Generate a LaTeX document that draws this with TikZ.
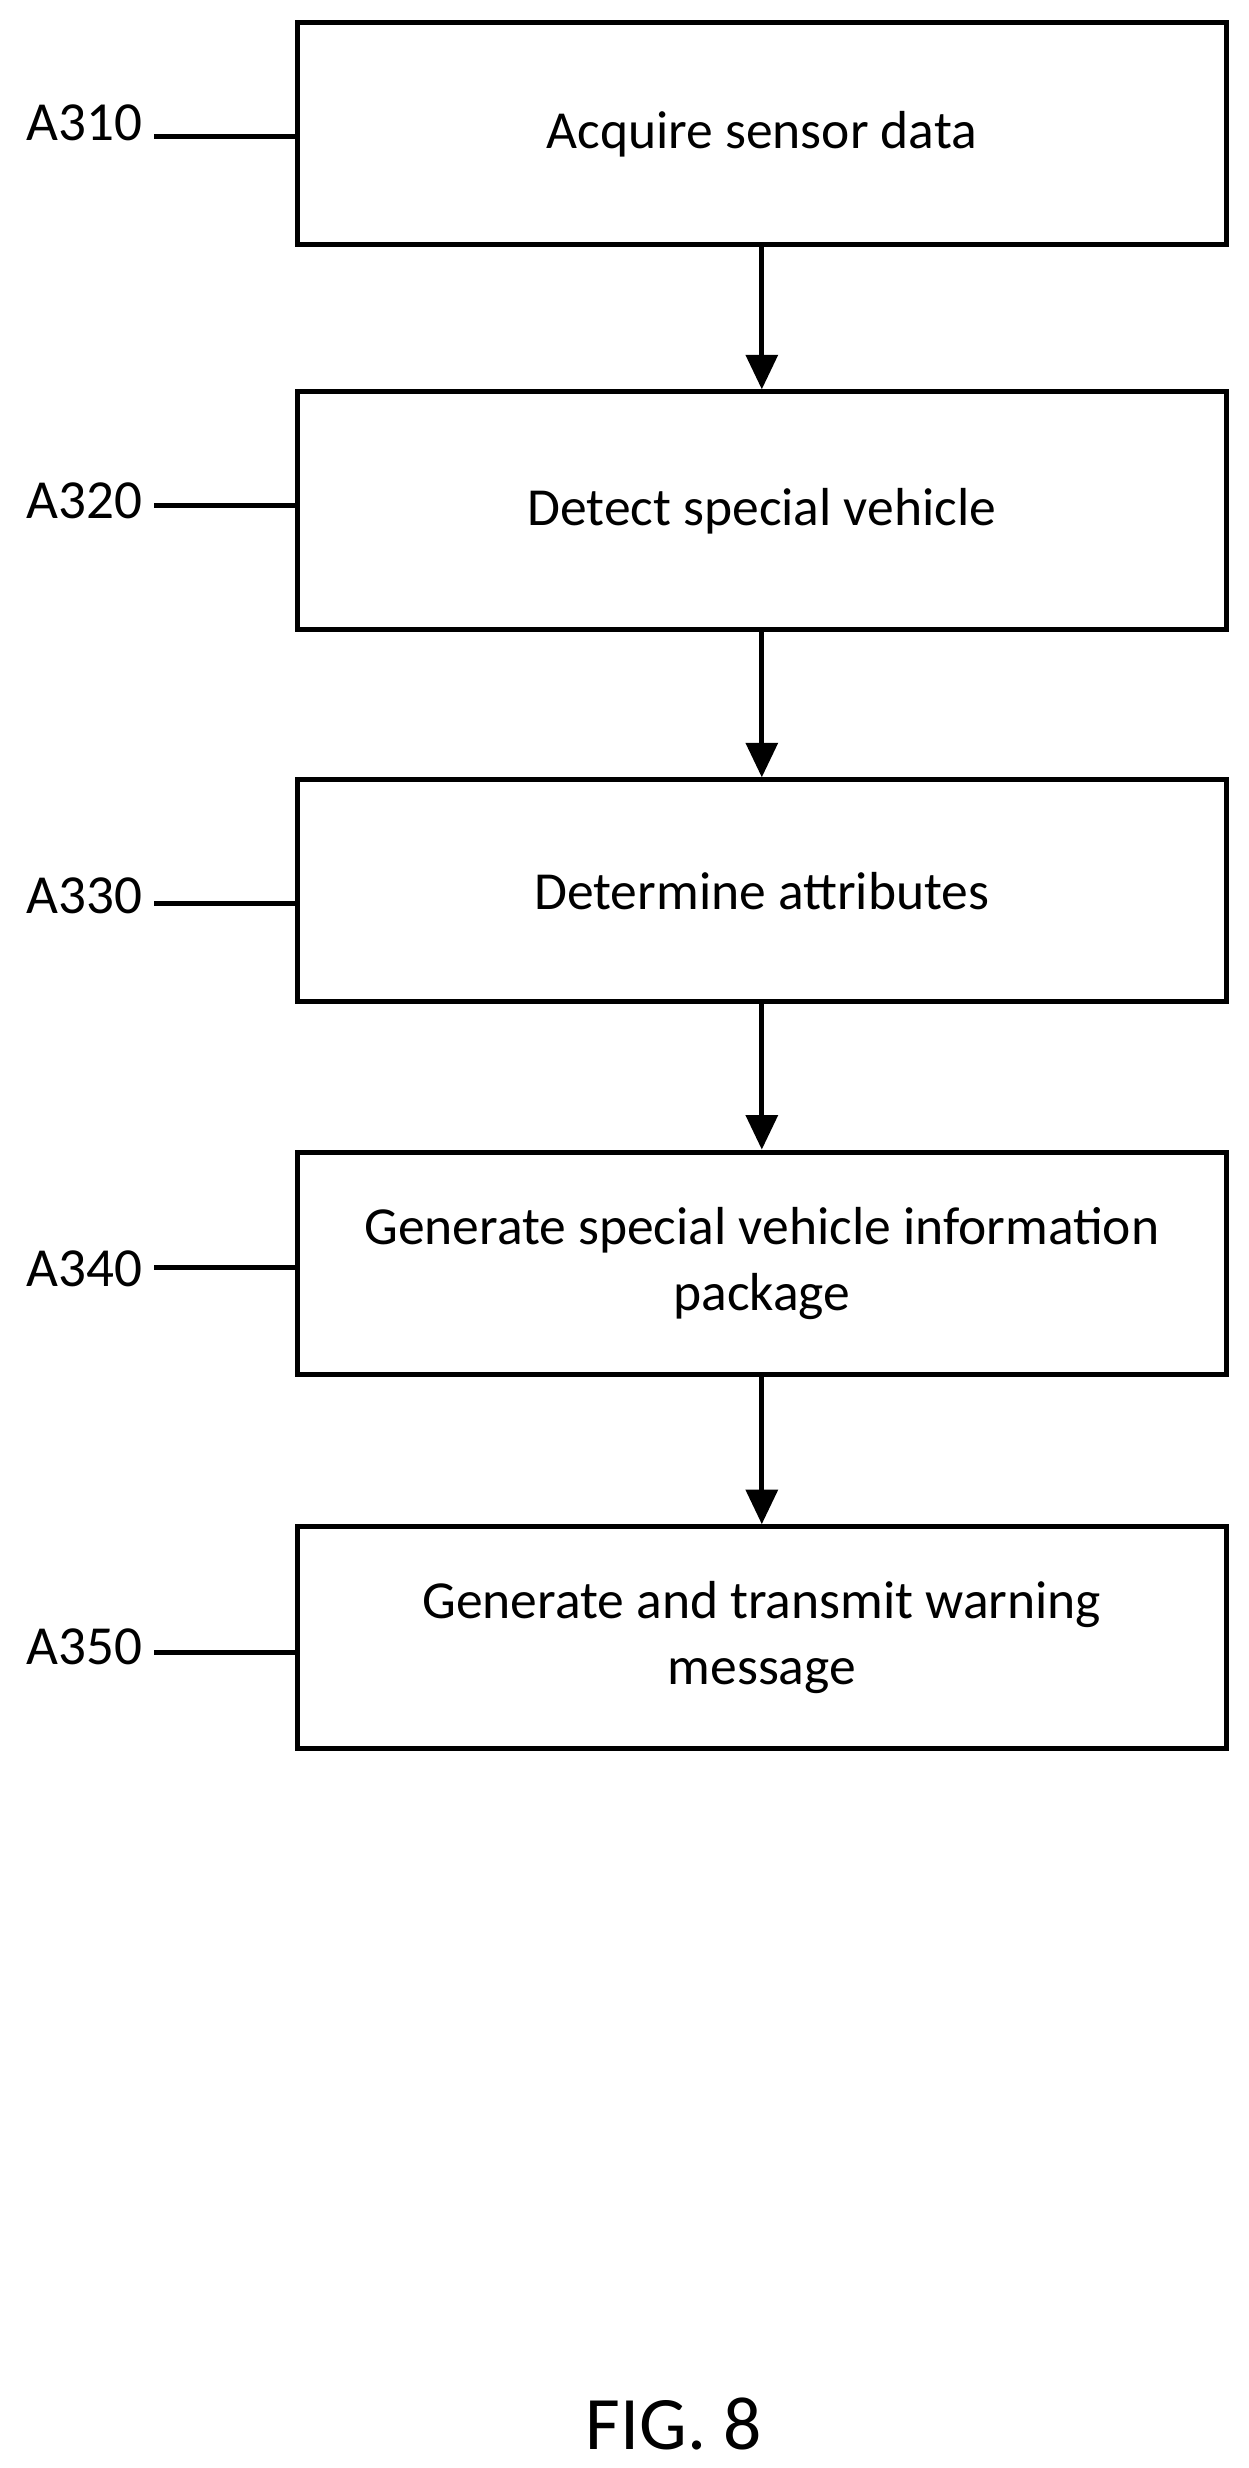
\documentclass[tikz,border=0pt]{standalone}
\usepackage{fontspec}
\setmainfont{Carlito}
\usetikzlibrary{arrows.meta}
\begin{document}
\begin{tikzpicture}[x=0.5pt,y=-0.5pt,
  box/.style={draw,line width=1.6pt,minimum width=295pt,minimum height=70.5pt,align=center,font=\fontsize{17}{21}\selectfont,inner sep=0pt},
  lbl/.style={font=\fontsize{17.5}{21}\selectfont,anchor=east,inner sep=0pt},
  arr/.style={line width=1.6pt,-{Triangle[length=11pt,width=10pt]}},
  ld/.style={line width=1.6pt}]
\useasboundingbox (0,0) rectangle (793,1568);
\node[box] (b1) at (484,85) {Acquire sensor data};
\node[box,minimum height=75.5pt] (b2) at (484,324.5) {Detect special vehicle};
\node[box] (b3) at (484,566) {Determine attributes};
\node[box] (b4) at (484,802.5) {Generate special vehicle information\\package};
\node[box] (b5) at (484,1040.5) {Generate and transmit warning\\message};
\draw[arr] (b1) -- (b2);
\draw[arr] (b2) -- (b3);
\draw[arr] (b3) -- (b4);
\draw[arr] (b4) -- (b5);
\coordinate (c1) at (98,87); \node[lbl] (l1) at (91,78) {A310};
\coordinate (c2) at (98,321); \node[lbl] (l2) at (91,318) {A320};
\coordinate (c3) at (98,574); \node[lbl] (l3) at (91,569) {A330};
\coordinate (c4) at (98,805); \node[lbl] (l4) at (91,806) {A340};
\coordinate (c5) at (98,1050); \node[lbl] (l5) at (91,1046) {A350};
\foreach \i in {1,...,5}{\draw[ld] (c\i) -- (c\i -| b\i.west);}
\node[font=\fontsize{24}{28}\selectfont] (fig) at (428,1540) {FIG. 8};
\end{tikzpicture}
\end{document}
